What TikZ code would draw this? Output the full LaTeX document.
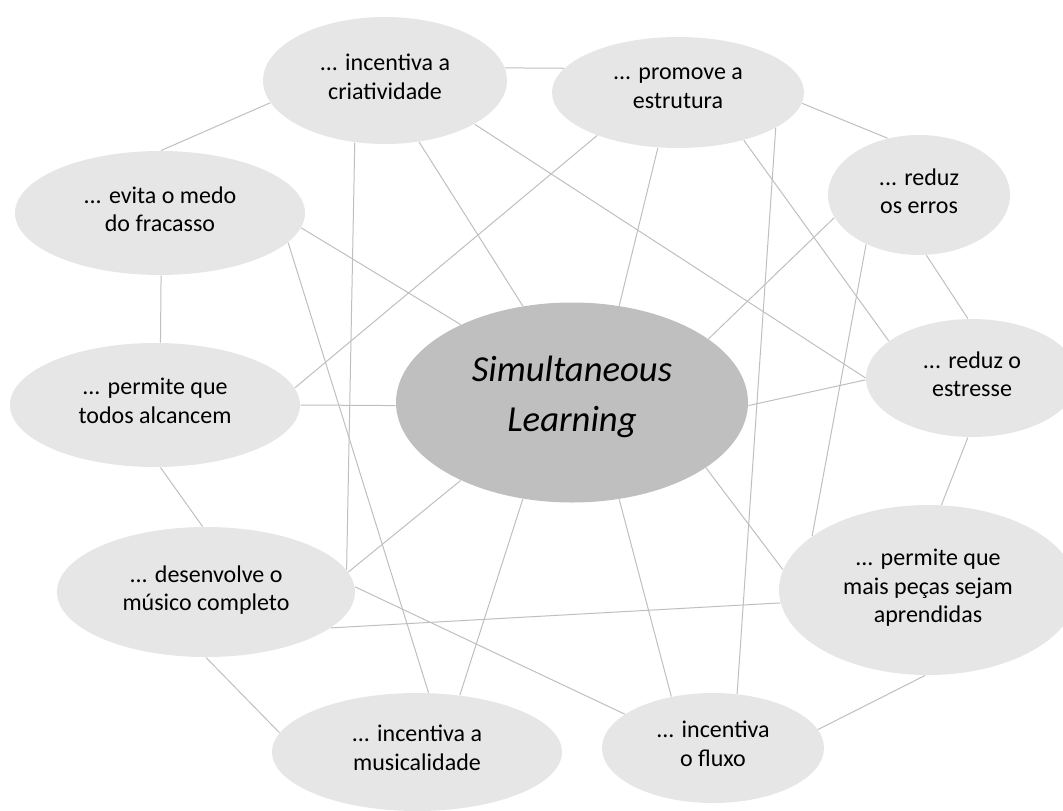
\documentclass[tikz,border=0pt]{standalone}
\usepackage{fontspec}
\setmainfont{Carlito}
\usetikzlibrary{shapes.geometric}
\definecolor{bubblegray}{RGB}{231,230,230}
\definecolor{hubgray}{RGB}{191,191,191}
\definecolor{linkgray}{RGB}{191,191,191}
\tikzset{every picture/.style={line width=0.75pt}}

\begin{document}
\begin{tikzpicture}[x=0.75pt,y=0.75pt,yscale=-1,xscale=1,
  bubble/.style={ellipse,fill=bubblegray,inner sep=0pt,align=center,text depth=6pt,font=\fontsize{18}{21.5}\selectfont},
  hub/.style={ellipse,fill=hubgray,inner sep=0pt,align=center,text depth=13pt,font=\fontsize{27.5}{38}\selectfont\itshape},
  link/.style={draw=linkgray,line width=0.75pt}]
\useasboundingbox (0,0) rectangle (1063,810);

%Shape: Ellipse (centre)
\node [hub,minimum width=264pt,minimum height=150pt] (sl) at (572,402.5) {Simultaneous\\Learning};

%Shape: Ellipse
\node [bubble,minimum width=183pt,minimum height=95.25pt] (crea) at (385,80.5) {... incentiva a\\criatividade};
%Shape: Ellipse
\node [bubble,minimum width=189pt,minimum height=83.25pt] (prom) at (678,92.5) {... promove a\\estrutura};
%Shape: Ellipse
\node [bubble,minimum width=217.5pt,minimum height=93pt] (evit) at (160,213) {... evita o medo\\do fracasso};
%Shape: Ellipse
\node [bubble,minimum width=136.5pt,minimum height=90pt] (erro) at (919,195) {... reduz\\os erros};
%Shape: Ellipse
\node [bubble,minimum width=217.5pt,minimum height=93pt] (todo) at (155,405) {... permite que\\todos alcancem};
%Shape: Ellipse
\node [bubble,minimum width=159pt,minimum height=88.5pt] (stre) at (972,378) {... reduz o\\estresse};
%Shape: Ellipse
\node [bubble,minimum width=223.5pt,minimum height=97.5pt] (deso) at (206,592) {... desenvolve o\\músico completo};
%Shape: Ellipse
\node [bubble,minimum width=223.5pt,minimum height=127.5pt] (peca) at (928,590) {... permite que\\mais peças sejam\\aprendidas};
%Shape: Ellipse
\node [bubble,minimum width=217.5pt,minimum height=88.5pt] (musi) at (417,752) {... incentiva a\\musicalidade};
%Shape: Ellipse
\node [bubble,minimum width=166.5pt,minimum height=82.5pt] (flux) at (713,748) {... incentiva\\o fluxo};

%Straight Lines (to the centre)
\draw [link] (crea.-61) -- (sl.117);
\draw [link] (prom.-110) -- (sl.64);
\draw [link] (evit.-6) -- (sl.145);
\draw [link] (erro.195) -- (sl.25);
\draw [link] (stre.181) -- (sl.-1);
\draw [link] (todo.0) -- (sl.181);
\draw [link] (deso.8) -- (sl.215);
\draw [link] (sl.243) -- (musi.53);
\draw [link] (sl.-64) -- (flux.129);
\draw [link] (sl.-26) -- (peca.172);

%Straight Lines (round the centre)
\draw [link] (crea.6) -- (prom.168);
\draw [link] (evit.89) -- (crea.191);
\draw [link] (crea.-116) -- (deso.9);
\draw [link] (crea.-26) -- (stre.180);
\draw [link] (prom.208) -- (todo.7);
\draw [link] (prom.-36) -- (stre.156);
\draw [link] (prom.-20) -- (flux.66);
\draw [link] (prom.-5) -- (erro.119);
\draw [link] (evit.-13) -- (musi.79);
\draw [link] (evit.-89) -- (todo.85);
\draw [link] (erro.223) -- (peca.155);
\draw [link] (erro.-83) -- (stre.94);
\draw [link] (stre.-94) -- (peca.81);
\draw [link] (todo.-85) -- (deso.93);
\draw [link] (deso.2) -- (flux.159);
\draw [link] (deso.-16) -- (peca.185);
\draw [link] (deso.-90) -- (musi.172);
\draw [link] (flux.10) -- (peca.-92);

\end{tikzpicture}
\end{document}
